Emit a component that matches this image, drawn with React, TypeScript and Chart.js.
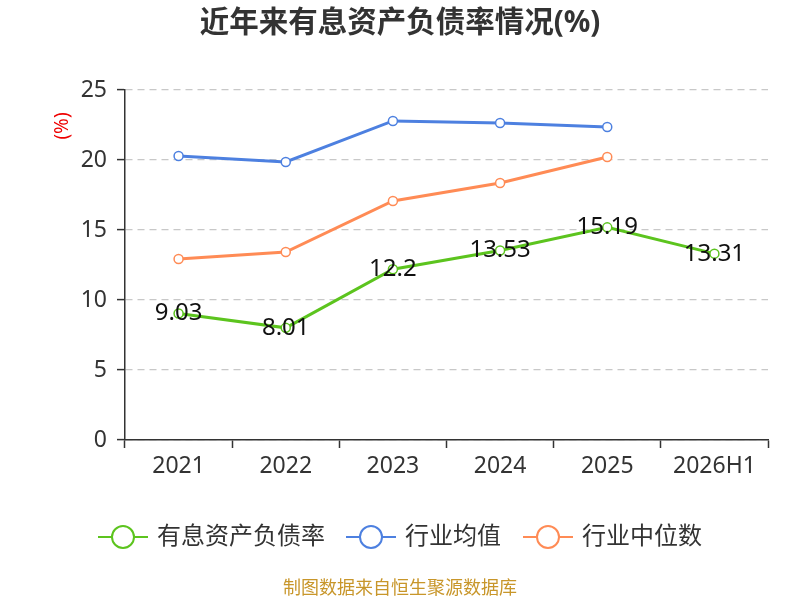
import { useEffect, useRef } from "react";
import { Chart, registerables } from "chart.js";

Chart.register(...registerables);

const FONT = "'Noto Sans', 'Noto Sans CJK SC', sans-serif";

const years = ["2021", "2022", "2023", "2024", "2025", "2026H1"];
const ownRate = [9.03, 8.01, 12.2, 13.53, 15.19, 13.31];
const industryAvg = [20.29, 19.86, 22.79, 22.64, 22.36, null];
const industryMedian = [12.93, 13.43, 17.07, 18.36, 20.21, null];
const seriesNames = ["有息资产负债率", "行业均值", "行业中位数"];
const seriesColors = ["#5cc41e", "#4d80e0", "#ff8b55"];
const yTicks = [0, 5, 10, 15, 20, 25];

// titles, unit, value labels, legend and source note
const overlay = {
  id: "overlay",
  afterDatasetsDraw(chart: Chart) {
    const ctx = chart.ctx;
    ctx.save();
    ctx.textBaseline = "middle";

    ctx.fillStyle = "#333";
    ctx.font = `bold 29.5px ${FONT}`;
    ctx.textAlign = "center";
    ctx.fillText("近年来有息资产负债率情况(%)", 400, 24);

    ctx.save();
    ctx.translate(63, 126);
    ctx.rotate(-Math.PI / 2);
    ctx.fillStyle = "#e00";
    ctx.font = `19px ${FONT}`;
    ctx.fillText("(%)", 0, 0);
    ctx.restore();

    const meta = chart.getDatasetMeta(0);
    ctx.fillStyle = "#111";
    ctx.font = `24px ${FONT}`;
    meta.data.forEach((pt, i) => {
      ctx.fillText(String(ownRate[i]), pt.x, pt.y);
    });

    const legendX = [98, 346, 523];
    const ly = 537;
    ctx.textAlign = "left";
    ctx.font = `24px ${FONT}`;
    seriesNames.forEach((name, i) => {
      const x0 = legendX[i];
      ctx.strokeStyle = seriesColors[i];
      ctx.lineWidth = 2;
      ctx.beginPath();
      ctx.moveTo(x0, ly);
      ctx.lineTo(x0 + 50, ly);
      ctx.stroke();
      ctx.beginPath();
      ctx.arc(x0 + 25, ly, 11, 0, Math.PI * 2);
      ctx.fillStyle = "#fff";
      ctx.fill();
      ctx.stroke();
      ctx.fillStyle = "#333";
      ctx.fillText(name, x0 + 59, ly);
    });

    ctx.textAlign = "center";
    ctx.fillStyle = "#c8962a";
    ctx.font = `18px ${FONT}`;
    ctx.fillText("制图数据来自恒生聚源数据库", 400, 589);
    ctx.restore();
  },
};

export default function App() {
  const canvasRef = useRef<HTMLCanvasElement>(null);
  const chartRef = useRef<Chart | null>(null);

  useEffect(() => {
    if (!canvasRef.current) return;
    if (chartRef.current) chartRef.current.destroy();

    const mk = (label: string, data: (number | null)[], color: string) => ({
      label,
      data,
      borderColor: color,
      backgroundColor: "#fff",
      borderWidth: 3,
      pointRadius: 4.5,
      pointBorderWidth: 1.5,
      pointBackgroundColor: "#fff",
      pointBorderColor: color,
      tension: 0,
    });

    chartRef.current = new Chart(canvasRef.current, {
      type: "line",
      data: {
        labels: years,
        datasets: [
          mk(seriesNames[0], ownRate, seriesColors[0]),
          mk(seriesNames[1], industryAvg, seriesColors[1]),
          mk(seriesNames[2], industryMedian, seriesColors[2]),
        ],
      },
      options: {
        animation: false,
        responsive: false,
        layout: { padding: { top: 90, right: 32, left: 0, bottom: 0 } },
        plugins: {
          legend: { display: false },
          tooltip: { enabled: false },
          title: { display: false },
        },
        scales: {
          x: {
            offset: true,
            grid: {
              offset: true,
              drawOnChartArea: false,
              tickLength: 8,
              tickColor: "#333",
              tickWidth: 1.5,
            },
            border: { color: "#333", width: 1.5 },
            ticks: {
              color: "#333",
              font: { family: FONT, size: 23 },
              padding: 5,
              maxRotation: 0,
            },
            afterFit(scale) {
              scale.height = 160;
            },
          },
          y: {
            min: 0,
            max: 25,
            afterBuildTicks(scale) {
              scale.ticks = yTicks.map((v) => ({ value: v }));
            },
            grid: {
              color: "#c8c8c8",
              lineWidth: 1.2,
              tickLength: 8,
              tickColor: "#333",
              tickWidth: 1.5,
              tickBorderDash: [],
            },
            border: { color: "#333", width: 1.5, dash: [7, 5] },
            ticks: {
              color: "#333",
              font: { family: FONT, size: 23 },
              padding: 10,
            },
            afterFit(scale) {
              scale.width = 125;
            },
          },
        },
      },
      plugins: [overlay],
    });

    return () => {
      if (chartRef.current) chartRef.current.destroy();
      chartRef.current = null;
    };
  }, []);

  return (
    <div style={{ position: "fixed", left: 0, top: 0, width: 800, height: 600, background: "#fff" }}>
      <canvas ref={canvasRef} width={800} height={600} style={{ width: 800, height: 600 }} />
    </div>
  );
}
